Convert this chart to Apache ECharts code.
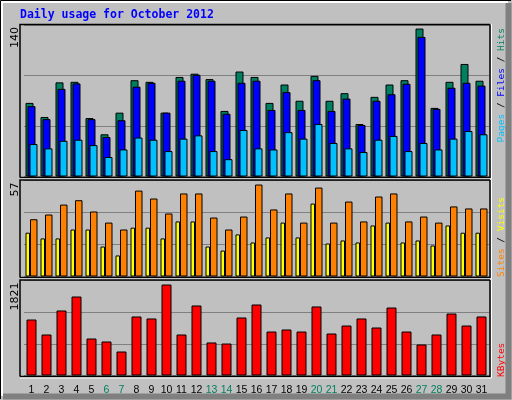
<!DOCTYPE html>
<html>
<head>
<meta charset="utf-8">
<script src="https://cdn.jsdelivr.net/npm/echarts@6/dist/echarts.min.js"></script>
<style>html,body{margin:0;padding:0;background:#c0c0c0}#chart{width:512px;height:400px}</style>
</head>
<body>
<div id="chart"></div>
<script>
var days = ['1','2','3','4','5','6','7','8','9','10','11','12','13','14','15','16','17','18','19','20','21','22','23','24','25','26','27','28','29','30','31'];
var weekend = ['6','7','13','14','20','21','27','28'];
var hits = [68,55,87,87.5,54,39,59,89,87.5,59,92,95,90,60.6,97,92,68,85,70,93,70,77,48.5,73.6,85,89,136.7,63.4,87.5,104,88.5];
var files = [65,53,81,86,53,36.5,52,83,86.6,59,88.5,94,88.5,58,86.6,88.5,61.5,78,61.5,89,60.6,72,47.6,70,76,85.7,129,62.5,82,86.6,84];
var pages = [30,26,33,34,29,18,25,36,34,23.5,35,38,23.5,16,43,26,25,41,35,48.5,31,26,22.6,34,37.5,23.5,31,25,35,42,39];
var visits = [26,22.6,22.6,27.9,27.9,17.8,12.5,29,29,22.6,32.7,32.7,17.8,15.4,25,20.2,23.2,32,23.2,43.3,19.6,21.4,20.2,30.3,32,20.2,21.4,18.4,30.3,26,26];
var sites = [34,36.8,42.7,45.3,38.6,32,27.9,51,46.3,37.4,49.3,49.3,35,27.9,35.6,54.6,39.8,49.3,32,52.8,32,44.5,32.7,47.5,49.3,32.7,35.6,32,41.6,40.4,40.4];
var kbytes = [1073,786,1246,1514,709,652,460,1131,1093,1744,786,1342,633,613,1112,1361,843,882,843,1323,805,958,1093,920,1303,843,594,786,1188,958,1131];
var maxLabels = [140, 57, 1821];

var myChart = echarts.init(document.getElementById('chart'));
var panels = [{top: 25, height: 151.5}, {top: 180.5, height: 96}, {top: 280.5, height: 95}];

var grids = panels.map(function (p) {
  return {left: 24, width: 465, top: p.top, height: p.height};
});
var xAxes = panels.map(function (p, i) {
  return {
    type: 'category', gridIndex: i, data: days,
    axisLine: {show: false}, axisTick: {show: false},
    axisLabel: {
      show: i === 2, interval: 0, margin: 9, fontFamily: 'Liberation Sans', fontSize: 10.5,
      color: function (v) { return weekend.indexOf(v) >= 0 ? '#008060' : '#000'; }
    }
  };
});
var yAxes = maxLabels.map(function (m, i) {
  return {
    type: 'value', gridIndex: i, min: 0, max: m, interval: m / 3,
    axisLabel: {show: false}, axisLine: {show: false}, axisTick: {show: false},
    splitLine: {lineStyle: {color: '#808080', width: 1}}
  };
});
function bar(name, data, idx, color, w, gap) {
  return {
    name: name, type: 'bar', data: data, xAxisIndex: idx, yAxisIndex: idx,
    barWidth: w, barGap: gap, animation: false,
    itemStyle: {color: color, borderColor: '#000', borderWidth: 1}
  };
}

var graphics = [];
panels.forEach(function (p) {
  graphics.push({type: 'polyline', z: 100, shape: {points: [[20, p.top + p.height + 1], [20, p.top - 0.5], [490, p.top - 0.5]]}, style: {stroke: '#000', lineWidth: 1.5, fill: null}});
  graphics.push({type: 'polyline', z: 100, shape: {points: [[490, p.top - 0.5], [490, p.top + p.height + 1], [20, p.top + p.height + 1]]}, style: {stroke: '#000', lineWidth: 1.5, fill: null}});
  graphics.push({type: 'polyline', z: 100, shape: {points: [[491.5, p.top - 1], [491.5, p.top + p.height + 2.5], [20, p.top + p.height + 2.5]]}, style: {stroke: '#fff', lineWidth: 1, fill: null}});
});
maxLabels.forEach(function (m, i) {
  graphics.push({type: 'text', x: 15, y: panels[i].top + 2, rotation: Math.PI / 2,
    style: {text: String(m), fill: '#000', font: '11px "DejaVu Sans"', align: 'right', verticalAlign: 'middle'}});
});
var mono = '9.5px "DejaVu Sans Mono"';
graphics.push({type: 'text', x: 502, y: 28, rotation: Math.PI / 2,
  style: {text: '{p|Pages}{s| / }{f|Files}{s| / }{h|Hits}', align: 'right', verticalAlign: 'middle', font: mono,
    rich: {p: {fill: '#00c0ff', font: mono}, f: {fill: '#0000ff', font: mono}, h: {fill: '#008060', font: mono}, s: {fill: '#000', font: mono}}}});
graphics.push({type: 'text', x: 502, y: 277, rotation: Math.PI / 2,
  style: {text: '{a|Sites}{s| / }{b|Visits}', align: 'left', verticalAlign: 'middle', font: mono,
    rich: {a: {fill: '#ff8000', font: mono}, b: {fill: '#ffff00', font: mono}, s: {fill: '#000', font: mono}}}});
graphics.push({type: 'text', x: 502, y: 377, rotation: Math.PI / 2,
  style: {text: 'KBytes', fill: '#ff0000', align: 'left', verticalAlign: 'middle', font: mono}});
graphics.push({type: 'text', x: 20, y: 15,
  style: {text: 'Daily usage for October 2012', fill: '#0000ff', font: 'bold 11.5px "DejaVu Sans Mono"', verticalAlign: 'middle'}});
// outer 3D border
graphics.push({type: 'polyline', z: 90, shape: {points: [[0.5, 399], [0.5, 0.5], [511, 0.5]]}, style: {stroke: '#000', lineWidth: 1, fill: null}});
graphics.push({type: 'polyline', z: 90, shape: {points: [[2, 396], [2, 2], [508, 2]]}, style: {stroke: '#fff', lineWidth: 2, fill: null}});
graphics.push({type: 'polyline', z: 90, shape: {points: [[508.5, 3], [508.5, 396.5], [3, 396.5]]}, style: {stroke: '#808080', lineWidth: 6, fill: null}});

var option = {
  backgroundColor: '#c0c0c0',
  animation: false,
  grid: grids,
  xAxis: xAxes,
  yAxis: yAxes,
  series: [
    bar('Hits', hits, 0, '#008060', 8, '-75%'),
    bar('Files', files, 0, '#0000ff', 8, '-75%'),
    bar('Pages', pages, 0, '#00c0ff', 8, '-75%'),
    bar('Visits', visits, 1, '#ffff00', 4.5, '0%'),
    bar('Sites', sites, 1, '#ff8000', 7.5, '0%'),
    bar('KBytes', kbytes, 2, '#ff0000', 10, '0%')
  ],
  graphic: graphics
};
myChart.setOption(option);
</script>
</body>
</html>
